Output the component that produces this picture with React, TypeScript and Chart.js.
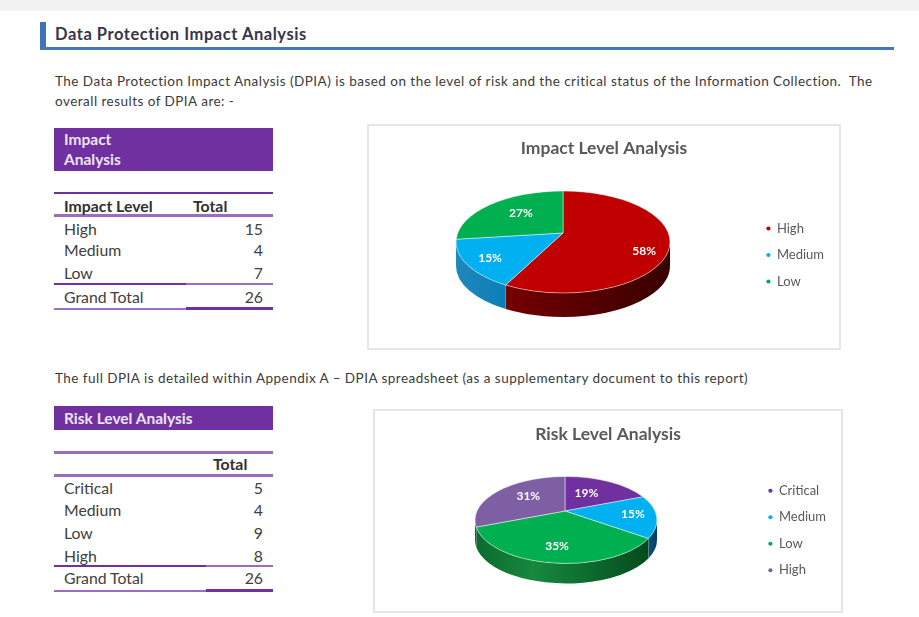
import React, { useEffect, useRef } from "react";
import { Chart, registerables } from "chart.js";

Chart.register(...registerables);

const headingText = "Data Protection Impact Analysis";
const introLine1 = "The Data Protection Impact Analysis (DPIA) is based on the level of risk and the critical status of the Information Collection.  The";
const introLine2 = "overall results of DPIA are: -";
const fullDpiaLine = "The full DPIA is detailed within Appendix A \u2013 DPIA spreadsheet (as a supplementary document to this report)";

const impactCategories = ["High", "Medium", "Low"];
const impactValues = [15, 4, 7];
const impactColors = ["#C00000", "#00B0F0", "#00B050"];
const impactWalls = [["#740000", "#560000", "#380000"], ["#2088ba", "#0a7fb6"], ["#006a30", "#006a30"]];
const impactLabelPlace = [[0.76, 9], [0.76, 1], [0.6, -2]];

const riskCategories = ["Critical", "Medium", "Low", "High"];
const riskValues = [5, 4, 9, 8];
const riskColors = ["#7030A0", "#00B0F0", "#00B050", "#7F5FA3"];
const riskWalls = [["#4a2070", "#4a2070"], ["#0a5580", "#063c5e"], ["#0c6a2e", "#16893d", "#0d6a2e", "#064a1e"], ["#4e3a70", "#4e3a70"]];
const riskLabelPlace = [[0.5, -3], [0.74, -1], [0.6, 4], [0.57, -3]];

const grandTotal = 26;

type Geo = { cx: number; cy: number; ax: number; ay: number; rx: number; ry: number; depth: number };

function rimParam(alpha: number, g: Geo) {
  const sy = g.ry / g.rx;
  const dx = Math.cos(alpha);
  const dy = Math.sin(alpha) * sy;
  const ox = (g.ax - g.cx) / g.rx;
  const oy = (g.ay - g.cy) / g.ry;
  const ux = dx / g.rx;
  const uy = dy / g.ry;
  const a = ux * ux + uy * uy;
  const b = 2 * (ox * ux + oy * uy);
  const c = ox * ox + oy * oy - 1;
  const s = (-b + Math.sqrt(b * b - 4 * a * c)) / (2 * a);
  return Math.atan2(oy + uy * s, ox + ux * s);
}

const pie3d = {
  id: "pie3d",
  beforeDatasetsDraw(chart: any, _args: any, opts: any) {
    const ctx: CanvasRenderingContext2D = chart.ctx;
    const g: Geo = opts.geo;
    const arcs = chart.getDatasetMeta(0).data;
    const colors = chart.data.datasets[0].backgroundColor;
    const spans = arcs.map((arc: any) => {
      const p = arc.getProps(["startAngle", "endAngle"], true);
      const a0 = rimParam(p.startAngle, g);
      let a1 = rimParam(p.endAngle, g);
      while (a1 <= a0) a1 += Math.PI * 2;
      return { a0, a1, alphaMid: (p.startAngle + p.endAngle) / 2 };
    });

    ctx.save();
    spans.forEach((sp: any, i: number) => {
      for (const shift of [0, Math.PI * 2, -Math.PI * 2]) {
        const from = Math.max(sp.a0 + shift, 0);
        const to = Math.min(sp.a1 + shift, Math.PI);
        if (to <= from) continue;
        const x0 = g.cx + g.rx * Math.cos(to);
        const x1 = g.cx + g.rx * Math.cos(from);
        const grad = ctx.createLinearGradient(x0, 0, x1, 0);
        const stops: string[] = opts.walls[i];
        stops.forEach((c, k) => grad.addColorStop(k / (stops.length - 1), c));
        ctx.beginPath();
        ctx.ellipse(g.cx, g.cy, g.rx, g.ry, 0, from, to);
        ctx.ellipse(g.cx, g.cy + g.depth, g.rx, g.ry, 0, to, from, true);
        ctx.closePath();
        ctx.fillStyle = grad;
        ctx.fill();
        ctx.strokeStyle = "rgba(255,255,255,0.35)";
        ctx.lineWidth = 0.7;
        if (to < Math.PI - 0.01) {
          ctx.beginPath();
          ctx.moveTo(g.cx + g.rx * Math.cos(to), g.cy + g.ry * Math.sin(to));
          ctx.lineTo(g.cx + g.rx * Math.cos(to), g.cy + g.depth + g.ry * Math.sin(to));
          ctx.stroke();
        }
      }
    });
    spans.forEach((sp: any, i: number) => {
      ctx.beginPath();
      ctx.moveTo(g.ax, g.ay);
      ctx.ellipse(g.cx, g.cy, g.rx, g.ry, 0, sp.a0, sp.a1);
      ctx.closePath();
      ctx.fillStyle = colors[i];
      ctx.fill();
      ctx.strokeStyle = "rgba(255,255,255,0.6)";
      ctx.lineWidth = 0.8;
      ctx.stroke();
    });

    const values: number[] = chart.data.datasets[0].data;
    const sum = values.reduce((s, v) => s + v, 0);
    ctx.fillStyle = "#ffffff";
    ctx.font = opts.labelFont;
    ctx.textAlign = "center";
    ctx.textBaseline = "middle";
    spans.forEach((sp: any, i: number) => {
      const rimP = rimParam(sp.alphaMid, g);
      const rimX = g.cx + g.rx * Math.cos(rimP);
      const rimY = g.cy + g.ry * Math.sin(rimP);
      const [reach, drop] = opts.labelPlace[i];
      const x = g.ax + (rimX - g.ax) * reach;
      const y = g.ay + (rimY - g.ay) * reach + drop;
      ctx.fillText(`${Math.round((values[i] / sum) * 100)}%`, x, y);
    });
    ctx.restore();
    return false;
  },
};

type PieProps = {
  title: string;
  categories: string[];
  values: number[];
  colors: string[];
  walls: string[][];
  labelPlace: number[][];
  geo: Geo;
  left: number;
  top: number;
  width: number;
  height: number;
  titleTop: number;
  legendDrop: number;
};

function Pie3D(props: PieProps) {
  const ref = useRef<HTMLCanvasElement>(null);
  useEffect(() => {
    const chart = new Chart(ref.current as HTMLCanvasElement, {
      type: "pie",
      data: {
        labels: props.categories,
        datasets: [{ data: props.values, backgroundColor: props.colors, borderWidth: 0 }],
      },
      options: {
        responsive: false,
        animation: false,
        layout: { padding: { top: props.titleTop, left: 5, right: 5, bottom: 0 } },
        plugins: {
          tooltip: { enabled: false },
          title: {
            display: true,
            text: props.title,
            color: "#595959",
            font: { family: "Lato", size: 17.5, weight: "bold" },
            padding: { top: 0, bottom: 4 },
          },
          legend: {
            display: true,
            position: "right",
            title: { display: true, text: " ", padding: { top: props.legendDrop, bottom: 0 } },
            labels: {
              usePointStyle: true,
              pointStyle: "circle",
              boxWidth: 4,
              boxHeight: 3,
              padding: 13.5,
              color: "#595959",
              font: { family: "Lato", size: 13 },
            },
          },
          pie3d: {
            geo: props.geo,
            walls: props.walls,
            labelPlace: props.labelPlace,
            labelFont: "bold 12px Lato",
          },
        } as any,
      },
      plugins: [pie3d as any],
    });
    return () => chart.destroy();
  }, []);
  return (
    <div
      style={{
        position: "absolute",
        left: props.left,
        top: props.top,
        width: props.width,
        height: props.height,
        boxSizing: "border-box",
        border: "2px solid #e6e6e6",
        background: "#fff",
      }}
    >
      <canvas ref={ref} width={props.width - 4} height={props.height - 4} style={{ display: "block" }} />
    </div>
  );
}

const abs = (left: number, top: number, extra: React.CSSProperties = {}): React.CSSProperties => ({
  position: "absolute",
  left,
  top,
  whiteSpace: "pre",
  ...extra,
});

const bodyText: React.CSSProperties = { fontSize: 13.5, letterSpacing: 0.47, lineHeight: "18px", color: "#3a3a3a" };

function Rule({ x, y, w, h, c }: { x: number; y: number; w: number; h: number; c: string }) {
  return <div style={{ position: "absolute", left: x, top: y, width: w, height: h, background: c }} />;
}

function Row({ label, value, y }: { label: string; value: number; y: number }) {
  return (
    <>
      <div style={abs(64, y - 10, { lineHeight: "20px" })}>{label}</div>
      <div style={abs(203, y - 10, { width: 60, textAlign: "right", lineHeight: "20px" })}>{value}</div>
    </>
  );
}

export default function App() {
  useEffect(() => {
    document.body.style.margin = "0";
  }, []);
  const purple = "#7030A0";
  const lilac = "#9b6cc0";
  const impactRowY = [229, 250, 273];
  const riskRowY = [488, 510, 533, 556];
  return (
    <div
      style={{
        position: "absolute",
        left: 0,
        top: 0,
        width: 919,
        height: 617,
        overflow: "hidden",
        background: "#fff",
        fontFamily: "Lato",
        color: "#404040",
        filter: "blur(0.7px)",
      }}
    >
      <div style={{ position: "absolute", left: 0, top: 0, width: 919, height: 11, background: "linear-gradient(#f1f1f1, #f4f4f4)" }} />
      <Rule x={40} y={22} w={6} h={28} c="#3f73b8" />
      <Rule x={40} y={47} w={854} h={3} c="#4478bd" />
      <div style={abs(55, 24, { fontSize: 16.5, letterSpacing: 0.55, fontWeight: 700, lineHeight: "20px", color: "#36364a" })}>{headingText}</div>
      <div style={abs(55, 72, bodyText)}>{introLine1}</div>
      <div style={abs(55, 92, bodyText)}>{introLine2}</div>

      <div style={{ fontSize: 15.8 }}>
        <Rule x={54} y={128} w={219} h={43} c={purple} />
        <div style={abs(64, 129, { color: "#eee5f5", fontWeight: 700, lineHeight: "20px", fontSize: 15.5 })}>
          {"Impact\nAnalysis"}
        </div>
        <Rule x={54} y={192} w={219} h={2} c={purple} />
        <Rule x={54} y={214} w={219} h={3} c={lilac} />
        <div style={abs(64, 196, { fontWeight: 700, lineHeight: "20px", color: "#303030" })}>Impact Level</div>
        <div style={abs(193, 196, { fontWeight: 700, lineHeight: "20px", color: "#303030" })}>Total</div>
        {impactCategories.map((c, i) => (
          <Row key={c} label={c} value={impactValues[i]} y={impactRowY[i]} />
        ))}
        <Rule x={54} y={283} w={132} h={2} c={purple} />
        <Rule x={186} y={283} w={87} h={2} c={lilac} />
        <Row label="Grand Total" value={grandTotal} y={297} />
        <Rule x={54} y={308} w={132} h={2} c={lilac} />
        <Rule x={186} y={307} w={87} h={3} c={purple} />

        <Rule x={54} y={406} w={219} h={24} c={purple} />
        <div style={abs(64, 408, { color: "#eee5f5", fontWeight: 700, lineHeight: "20px", fontSize: 15.5 })}>Risk Level Analysis</div>
        <Rule x={54} y={451} w={219} h={3} c={lilac} />
        <Rule x={54} y={474} w={219} h={3} c={lilac} />
        <div style={abs(213, 454, { fontWeight: 700, lineHeight: "20px", color: "#303030" })}>Total</div>
        {riskCategories.map((c, i) => (
          <Row key={c} label={c} value={riskValues[i]} y={riskRowY[i]} />
        ))}
        <Rule x={54} y={565} w={152} h={2} c={purple} />
        <Rule x={206} y={565} w={67} h={2} c={lilac} />
        <Row label="Grand Total" value={grandTotal} y={578} />
        <Rule x={54} y={590} w={152} h={2} c={lilac} />
        <Rule x={206} y={589} w={67} h={3} c={purple} />
      </div>

      <div style={abs(55, 369, bodyText)}>{fullDpiaLine}</div>

      <Pie3D
        title="Impact Level Analysis"
        categories={impactCategories}
        values={impactValues}
        colors={impactColors}
        walls={impactWalls}
        labelPlace={impactLabelPlace}
        geo={{ cx: 194, cy: 116, ax: 194, ay: 107, rx: 107, ry: 51, depth: 24 }}
        left={367}
        top={124}
        width={474}
        height={226}
        titleTop={12}
        legendDrop={9.6}
      />
      <Pie3D
        title="Risk Level Analysis"
        categories={riskCategories}
        values={riskValues}
        colors={riskColors}
        walls={riskWalls}
        labelPlace={riskLabelPlace}
        geo={{ cx: 191, cy: 109, ax: 190, ay: 100, rx: 91, ry: 43.5, depth: 20 }}
        left={373}
        top={409}
        width={470}
        height={204}
        titleTop={13}
        legendDrop={11.6}
      />
    </div>
  );
}
